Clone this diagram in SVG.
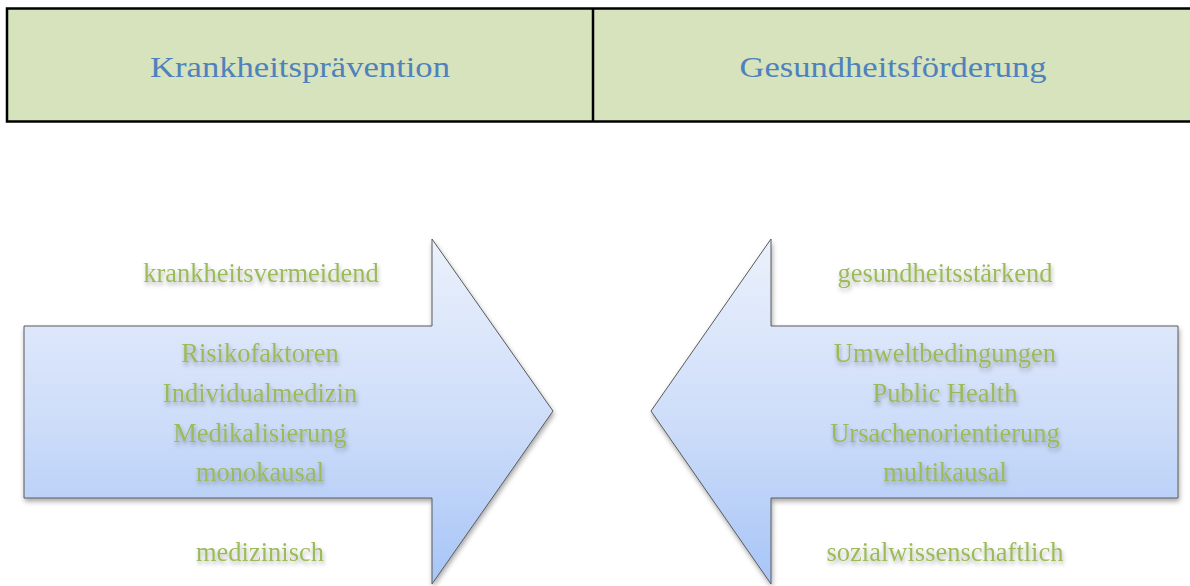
<svg xmlns="http://www.w3.org/2000/svg" width="1190" height="586" viewBox="0 0 1190 586">
<defs>
<linearGradient id="ag" x1="0" y1="0" x2="0" y2="1">
<stop offset="0" stop-color="#ebf1fc"/>
<stop offset="0.55" stop-color="#ccdcf9"/>
<stop offset="1" stop-color="#a7c5f7"/>
</linearGradient>
<filter id="sh" x="-10%" y="-10%" width="120%" height="120%">
<feDropShadow dx="1" dy="3" stdDeviation="2.5" flood-color="#000" flood-opacity="0.35"/>
</filter>
<filter id="glow" x="-10%" y="-30%" width="120%" height="160%">
<feDropShadow dx="1" dy="3" stdDeviation="2" flood-color="#000" flood-opacity="0.3"/>
</filter>
</defs>
<style>
.hdr{fill:#d7e3bc;stroke:#000;stroke-width:2.5}
.ht{font-family:"Liberation Serif","DejaVu Serif",serif;font-size:30px;fill:#4f81bd;text-anchor:middle}
.arrow{fill:url(#ag);stroke:#5a5a5a;stroke-width:1;filter:url(#sh)}
.gt{font-family:"Liberation Serif",serif;font-size:26.5px;fill:#9bbb59;text-anchor:middle;filter:url(#glow)}
</style>
<g id="header">
<rect class="hdr" x="7" y="8.5" width="1190" height="113"/>
<line x1="593" y1="8.5" x2="593" y2="121.5" stroke="#000" stroke-width="2.5"/>
</g>
<g id="head-left"><text class="ht" x="300" y="77" textLength="300" lengthAdjust="spacingAndGlyphs">Krankheitsprävention</text></g>
<g id="head-right"><text class="ht" x="893" y="77" textLength="307" lengthAdjust="spacingAndGlyphs">Gesundheitsförderung</text></g>
<g id="connectors">
<path id="arrow-left" class="arrow" d="M24 326 H432 V239 L553 411 L432 584 V498 H24 Z"/>
<path id="arrow-right" class="arrow" d="M1178 326 H771 V239 L651 411 L771 584 V498 H1178 Z"/>
</g>
<g id="left-labels">
<text class="gt" x="261" y="282">krankheitsvermeidend</text>
<text class="gt" x="260" y="362">Risikofaktoren</text>
<text class="gt" x="260" y="402">Individualmedizin</text>
<text class="gt" x="260" y="442">Medikalisierung</text>
<text class="gt" x="260" y="481">monokausal</text>
<text class="gt" x="260" y="561">medizinisch</text>
</g>
<g id="right-labels">
<text class="gt" x="945" y="282">gesundheitsstärkend</text>
<text class="gt" x="945" y="362">Umweltbedingungen</text>
<text class="gt" x="945" y="402">Public Health</text>
<text class="gt" x="945" y="442">Ursachenorientierung</text>
<text class="gt" x="945" y="481">multikausal</text>
<text class="gt" x="945" y="561">sozialwissenschaftlich</text>
</g>
</svg>
